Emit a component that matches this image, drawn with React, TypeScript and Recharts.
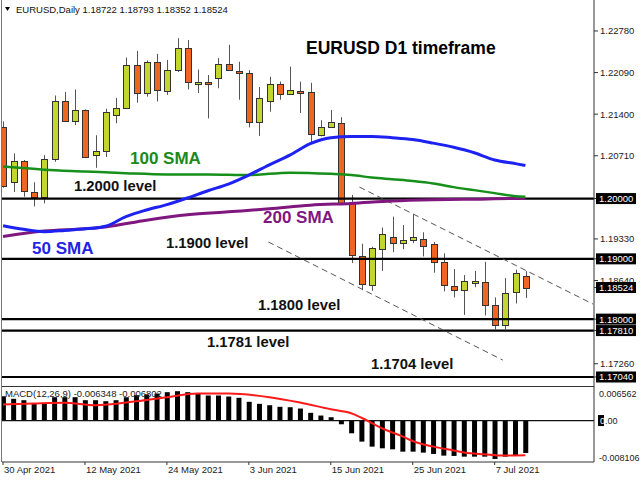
import { ComposedChart, Bar, Line, XAxis, YAxis, ReferenceLine } from 'recharts'

// daily candles, 30 Apr 2021 .. 12 Jul 2021
const opens = [
  1.2118, 1.2027, 1.2062, 1.2011, 1.2003, 1.2066, 1.2162, 1.2128, 1.2147, 1.2072,
  1.2079, 1.2138, 1.2151, 1.2222, 1.2175, 1.2227, 1.2178, 1.2214, 1.2249, 1.2190,
  1.2193, 1.2200, 1.2224, 1.2212, 1.2209, 1.2127, 1.2162, 1.2190, 1.2173, 1.2179,
  1.2176, 1.2105, 1.2119, 1.2125, 1.1992, 1.1905, 1.1856, 1.1916, 1.1937, 1.1926,
  1.1931, 1.1933, 1.1924, 1.1895, 1.1855, 1.1849, 1.1860, 1.1862, 1.1823, 1.1790,
  1.1845, 1.18722,
]
const highs = [
  1.2128, 1.2075, 1.2064, 1.2027, 1.2072, 1.2171, 1.2177, 1.2181, 1.2148, 1.2105,
  1.2149, 1.2167, 1.2234, 1.2245, 1.2229, 1.2240, 1.2230, 1.2266, 1.2263, 1.2214,
  1.2205, 1.2233, 1.2255, 1.2227, 1.2213, 1.2185, 1.2202, 1.2194, 1.2219, 1.2194,
  1.2192, 1.2130, 1.2147, 1.2135, 1.2006, 1.1925, 1.1920, 1.1952, 1.1970, 1.1956,
  1.1974, 1.1944, 1.1928, 1.1909, 1.1883, 1.1873, 1.1880, 1.1895, 1.1836, 1.1868,
  1.1882, 1.18793,
]
const lows = [
  1.2018, 1.2011, 1.2003, 1.1987, 1.1992, 1.2061, 1.2127, 1.2122, 1.2068, 1.2051,
  1.2069, 1.2125, 1.2150, 1.2159, 1.2169, 1.2161, 1.2172, 1.2210, 1.2181, 1.2175,
  1.2133, 1.2183, 1.2212, 1.2164, 1.2118, 1.2104, 1.2144, 1.2164, 1.2172, 1.2142,
  1.2092, 1.2103, 1.2118, 1.1989, 1.1893, 1.1848, 1.1847, 1.1880, 1.1911, 1.1916,
  1.1926, 1.1904, 1.1877, 1.1846, 1.1836, 1.1807, 1.1853, 1.1806, 1.1783, 1.1783,
  1.1826, 1.18352,
]
const closes = [
  1.2021, 1.2062, 1.2013, 1.2003, 1.2065, 1.2162, 1.2128, 1.2147, 1.2069, 1.2079,
  1.2143, 1.2150, 1.2222, 1.2175, 1.2226, 1.2180, 1.2214, 1.2249, 1.2193, 1.2193,
  1.2190, 1.2224, 1.2213, 1.2209, 1.2127, 1.2166, 1.2190, 1.2173, 1.2180, 1.2175,
  1.2107, 1.2118, 1.2127, 1.1993, 1.1906, 1.1859, 1.1918, 1.1941, 1.1926, 1.1931,
  1.1936, 1.1922, 1.1895, 1.1856, 1.1849, 1.1864, 1.1863, 1.1823, 1.1790, 1.1844,
  1.1877, 1.18524,
]

// moving averages read at [bar index, value]
const sma50Points: [number, number][] = [
  [0, 1.1955], [2, 1.1949], [4, 1.1945], [6, 1.1947], [8, 1.1950], [9, 1.1951], [10, 1.1954],
  [12, 1.1970], [14, 1.1981], [16, 1.1990], [18, 1.2001], [20, 1.2013], [22, 1.2024],
  [24, 1.2039], [26, 1.2056], [28, 1.2072], [30, 1.2091], [32, 1.2101], [34, 1.2103],
  [36, 1.2103], [38, 1.2101], [40, 1.2098], [42, 1.2092], [44, 1.2085], [46, 1.2076],
  [48, 1.2064], [50, 1.2058], [51, 1.2055],
]
const sma100Points: [number, number][] = [
  [0, 1.2053], [4, 1.2048], [8, 1.2045], [12, 1.2042], [16, 1.2040], [20, 1.2040],
  [24, 1.2039], [28, 1.2043], [32, 1.2041], [34, 1.2039], [36, 1.2035], [38, 1.2032],
  [40, 1.2029], [42, 1.2025], [44, 1.2019], [46, 1.2014], [48, 1.2009], [50, 1.2004], [51, 1.2003],
]
const sma200Points: [number, number][] = [
  [0, 1.1937], [4, 1.1946], [8, 1.1950], [10, 1.1953], [14, 1.1964], [18, 1.1973],
  [22, 1.1978], [26, 1.1983], [30, 1.1989], [34, 1.1992], [38, 1.1996], [42, 1.1998],
  [46, 1.1999], [50, 1.2000], [51, 1.2000],
]

const levels = [1.2, 1.19, 1.18, 1.1781, 1.1704]
// channel lines: [index, price] -> [index, price]
const channelUpper = [[34.8, 1.2019], [57.6, 1.1825]]
const channelLower = [[25.9, 1.1928], [48.8, 1.1732]]

const priceTicks = [1.2278, 1.2209, 1.214, 1.2071, 1.2, 1.1933, 1.19, 1.1864, 1.18524, 1.18, 1.1781, 1.1726, 1.1704]
const boxedTicks = [1.2, 1.19, 1.18524, 1.18, 1.1781, 1.1704]

const macdHist = [
  0.00476, 0.00425, 0.00398, 0.00333, 0.00333, 0.00457, 0.00457, 0.00457, 0.00398, 0.00398,
  0.00378, 0.00398, 0.00457, 0.00496, 0.00510, 0.00529, 0.00555, 0.00574, 0.00555, 0.00529,
  0.00490, 0.00490, 0.00470, 0.00445, 0.00367, 0.00327, 0.00300, 0.00269, 0.00261, 0.00235,
  0.00151, 0.00098, 0.00065, -0.00073, -0.00249, -0.00412, -0.00510, -0.00543, -0.00563, -0.00608,
  -0.00608, -0.00627, -0.00653, -0.00686, -0.00692, -0.00706, -0.00706, -0.00706, -0.00751, -0.00706,
  -0.00692, -0.006348,
]
const signalPoints: [number, number][] = [
  [0, 0.00314], [3, 0.00333], [6, 0.00347], [9, 0.00300], [13, 0.00378], [16, 0.00457],
  [19, 0.00529], [22, 0.00529], [26, 0.00457], [29, 0.00353], [32, 0.00221], [34, 0.00143],
  [35, 0.00055], [37, -0.0015], [39, -0.0031], [40, -0.004], [42, -0.0051], [44, -0.00585],
  [45, -0.00625], [47, -0.0066], [49, -0.00685], [51, -0.006802],
]
const macdTicks = [0.006562, 0, -0.008106]

const dateTicks = [0, 8, 16, 24, 32, 40, 48]
const dateLabels = ['30 Apr 2021', '12 May 2021', '24 May 2021', '3 Jun 2021', '15 Jun 2021', '25 Jun 2021', '7 Jul 2021']

const GREEN = '#C3D62F'
const RED = '#F0651F'
const FONT = '"Liberation Sans", Arial, sans-serif'
const X_DOMAIN = [-0.1, 57.7]

const sma50 = new Map(sma50Points)
const sma100 = new Map(sma100Points)
const sma200 = new Map(sma200Points)
const signal = new Map(signalPoints)

const rows = opens.map((open, i) => ({
  i, open, high: highs[i], low: lows[i], close: closes[i],
  sma50: sma50.get(i) ?? null,
  sma100: sma100.get(i) ?? null,
  sma200: sma200.get(i) ?? null,
}))
const macdRows = macdHist.map((hist, i) => ({ i, hist, signal: signal.get(i) ?? null }))

function Candle(props: any) {
  const { x, y, width, height, payload } = props
  if (x == null || !payload) return null
  const { open, close, high, low } = payload
  const top = Math.min(y, y + height)
  const h = Math.abs(height)
  const py = (v: number) => (high === low ? top : top + ((high - v) / (high - low)) * h)
  const c = Math.round(x + width / 2)
  const bTop = Math.round(py(Math.max(open, close))) + 0.5
  const bBot = Math.round(py(Math.min(open, close))) + 0.5
  return (
    <g>
      <line x1={c + 0.5} x2={c + 0.5} y1={top} y2={top + h} stroke="#555" />
      <rect x={c - 2.5} y={bTop} width={6} height={Math.max(bBot - bTop, 1)} fill={close >= open ? GREEN : RED} stroke="#333" />
    </g>
  )
}

function PriceTick(props: any) {
  const { x, y, payload } = props
  const v = payload.value
  if (boxedTicks.includes(v)) {
    return (
      <g>
        <rect x={x - 4} y={y - 5.5} width={40} height={11} fill="#000" />
        <text x={x - 1} y={y + 3.5} fill="#fff" fontSize={9.5} fontFamily={FONT}>{v.toFixed(5)}</text>
      </g>
    )
  }
  return <text x={x} y={y + 3.5} fill="#222" fontSize={9.5} fontFamily={FONT}>{v.toFixed(5)}</text>
}

function MacdTick(props: any) {
  const { x, y, payload } = props
  const v = payload.value
  if (v === 0) {
    return (
      <g>
        <rect x={x - 4} y={y - 5.5} width={6} height={11} fill="#000" />
        <text x={x - 2} y={y + 3.5} fontSize={9} fontFamily={FONT} fill="#222">
          <tspan fill="#fff">0</tspan>.00
        </text>
      </g>
    )
  }
  const dy = v > 0 ? 9.5 : -1.5
  return <text x={x - 3} y={y + dy} fontSize={9} fontFamily={FONT} fill="#222">{v.toFixed(6)}</text>
}

function DateTick(props: any) {
  const { x, y, payload } = props
  return (
    <text x={x + 1} y={y + 6} fontSize={9.5} fontFamily={FONT} fill="#222">
      {dateLabels[dateTicks.indexOf(payload.value)]}
    </text>
  )
}

const lbl = (size: number, color: string) => ({ fontSize: size, fontWeight: 700, fill: color, fontFamily: FONT })

export default function App() {
  return (
    <div style={{ position: 'absolute', left: 0, top: 0, width: 640, height: 480, background: '#fff', overflow: 'hidden' }}>
      <div style={{ position: 'absolute', left: 0, top: 0 }}>
        <ComposedChart width={640} height={387} data={rows} margin={{ top: 0, right: 0, bottom: 0, left: 2 }}>
          <XAxis dataKey="i" type="number" domain={X_DOMAIN} allowDataOverflow hide />
          <YAxis
            orientation="right" width={46} domain={[1.16874, 1.23294]} allowDataOverflow
            ticks={priceTicks} interval={0} tick={<PriceTick />} tickSize={4}
            tickLine={{ stroke: '#333' }} axisLine={{ stroke: '#333' }}
          />
          {levels.map((v) => (
            <ReferenceLine key={v} y={v} stroke="#000" strokeWidth={2.2} />
          ))}
          {[channelUpper, channelLower].map((seg, k) => (
            <ReferenceLine
              key={k}
              segment={seg.map(([x, y]) => ({ x, y }))}
              stroke="#555" strokeDasharray="6 4" strokeWidth={1}
            />
          ))}
          <Line dataKey="sma200" type="monotone" stroke="#80177F" strokeWidth={3} dot={false} connectNulls isAnimationActive={false} />
          <Line dataKey="sma100" type="monotone" stroke="#16901A" strokeWidth={2.5} dot={false} connectNulls isAnimationActive={false} />
          <Line dataKey="sma50" type="monotone" stroke="#1E22F0" strokeWidth={3} dot={false} connectNulls isAnimationActive={false} />
          <Bar dataKey={(d: any) => [d.low, d.high]} barSize={7} shape={<Candle />} isAnimationActive={false} />
        </ComposedChart>
      </div>

      <div style={{ position: 'absolute', left: 0, top: 387 }}>
        <ComposedChart width={640} height={93} data={macdRows} margin={{ top: 0, right: 0, bottom: 0, left: 2 }}>
          <XAxis
            dataKey="i" type="number" domain={X_DOMAIN} allowDataOverflow height={18}
            ticks={dateTicks} interval={0} tick={<DateTick />} tickSize={3}
            tickLine={{ stroke: '#333' }} axisLine={{ stroke: '#333' }}
          />
          <YAxis
            orientation="right" width={46} domain={[-0.008106, 0.006562]} allowDataOverflow
            ticks={macdTicks} interval={0} tick={<MacdTick />} tickLine={false} axisLine={{ stroke: '#333' }}
          />
          <ReferenceLine y={0} stroke="#111" strokeWidth={1.2} />
          <Bar dataKey="hist" fill="#000" barSize={5} isAnimationActive={false} />
          <Line dataKey="signal" type="monotone" stroke="#FF1A1A" strokeWidth={2} dot={false} connectNulls isAnimationActive={false} />
        </ComposedChart>
      </div>

      <svg width={640} height={480} style={{ position: 'absolute', left: 0, top: 0, pointerEvents: 'none' }}>
        <line x1={1.5} x2={1.5} y1={0} y2={462} stroke="#777" />
        <line x1={2} x2={594} y1={386.5} y2={386.5} stroke="#333" />
        <polygon points="5,7 10,7 7.5,11" fill="#000" />
        <text x={16} y={12.5} fontSize={9.5} fontFamily={FONT} fill="#111">EURUSD,Daily  1.18722 1.18793 1.18352 1.18524</text>
        <text x={5} y={397} fontSize={9.5} fontFamily={FONT} fill="#222">MACD(12,26,9) -0.006348 -0.006802</text>
        <text x={306} y={54} style={lbl(17.5, '#000')}>EURUSD D1 timeframe</text>
        <text x={130} y={164} style={lbl(17, '#1B8A1B')}>100 SMA</text>
        <text x={263} y={223} style={lbl(17, '#80177F')}>200 SMA</text>
        <text x={32} y={254} style={lbl(17, '#2323E6')}>50 SMA</text>
        <text x={74} y={191} style={lbl(14.8, '#111')}>1.2000 level</text>
        <text x={166} y={248} style={lbl(14.8, '#111')}>1.1900 level</text>
        <text x={258} y={310} style={lbl(14.8, '#111')}>1.1800 level</text>
        <text x={207} y={347} style={lbl(14.8, '#111')}>1.1781 level</text>
        <text x={371} y={368.5} style={lbl(14.8, '#111')}>1.1704 level</text>
      </svg>
    </div>
  )
}
